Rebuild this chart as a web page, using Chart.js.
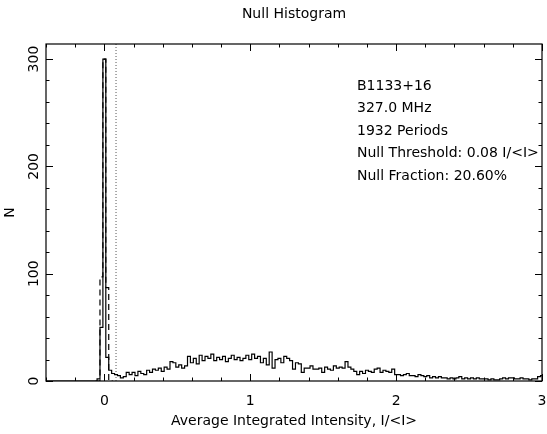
<!DOCTYPE html>
<html>
<head>
<meta charset="utf-8">
<script src="https://cdn.jsdelivr.net/npm/chart.js@4.4.1/dist/chart.umd.min.js"></script>
<style>
  html, body { margin: 0; padding: 0; background: #fff; }
</style>
</head>
<body>
<canvas id="grafikNull" width="547" height="434"></canvas>
<script>
// histogram bins: first centre and width (I/<I>)
const binStart = -0.4;
const binWidth = 0.02;

// on-pulse counts, one per bin from -0.4 to 3.0
const onCounts = [
  0, 0, 0, 0, 0, 0, 0, 0, 0, 0, 0, 0, 0, 0, 0, 0, 0, 0,
  2, 50, 300, 22, 10,
  7, 6, 5, 3, 4, 8, 6, 8, 5, 9, 7, 6, 10, 8, 11, 10, 12, 9, 13, 11,
  18, 17, 13, 15, 12, 14, 23, 17, 21, 16,
  24, 19, 23, 21, 25, 19, 22, 20, 23, 18,
  21, 24, 20, 22, 19, 21, 24, 20, 25, 21,
  23, 17, 21, 15, 27, 12, 20, 21, 17, 23,
  21, 19, 11, 17, 16, 8, 12, 12, 14, 11,
  11, 12, 8, 13, 11, 10, 14, 12, 13, 12,
  18, 13, 11, 9, 6, 9, 7, 10, 9, 8,
  11, 12, 8, 10, 9, 8, 11,
  6, 6, 5, 6, 7, 5, 5, 4, 6, 5,
  4, 5, 3, 4, 3, 4, 3, 3, 2, 3,
  2, 3, 4, 2, 3, 2, 3, 2, 3, 2,
  2, 2, 1, 2, 1, 1, 2, 3, 2, 3,
  3, 2, 2, 3, 2, 2, 1, 2, 2, 4,
  5
];

// off-pulse (noise) histogram, dashed
const offCentres = [-0.06, -0.04, -0.02, 0, 0.02, 0.04, 0.06];
const offCounts = [0, 0, 97, 300, 87, 0, 0];

const nullThreshold = 0.08;

// axes
const xMin = -0.4, xMax = 3;
const yMin = 0, yMax = 314;
const xMajor = [0, 1, 2, 3];
const xMinorStep = 0.2;
const yMajor = [0, 100, 200, 300];
const yMinorStep = 20;

const infoLines = [
  'B1133+16',
  '327.0 MHz',
  '1932 Periods',
  'Null Threshold: 0.08 I/<I>',
  'Null Fraction: 20.60%'
];

const fontName = '"DejaVu Sans", sans-serif';

const onData = onCounts.map((n, i) => ({ x: binStart + i * binWidth, y: n }));
const offData = offCounts.map((n, i) => ({ x: offCentres[i], y: n }));

// box, inward ticks and all text, PGPLOT style
const boxPlugin = {
  id: 'box',
  afterDraw(chart) {
    const { ctx, chartArea: a, scales: { x, y } } = chart;
    ctx.save();
    ctx.strokeStyle = '#000';
    ctx.fillStyle = '#000';
    ctx.lineWidth = 1.2;
    ctx.strokeRect(a.left, a.top, a.right - a.left, a.bottom - a.top);

    ctx.beginPath();
    for (let v = xMin; v <= xMax + 1e-6; v += xMinorStep) {
      const r = Math.round(v * 10) / 10;
      const len = xMajor.includes(r) ? 7 : 3.5;
      const px = Math.round(x.getPixelForValue(r)) + 0.5;
      ctx.moveTo(px, a.bottom); ctx.lineTo(px, a.bottom - len);
      ctx.moveTo(px, a.top); ctx.lineTo(px, a.top + len);
    }
    for (let v = yMin; v <= yMax; v += yMinorStep) {
      const len = yMajor.includes(v) ? 7 : 3.5;
      const py = Math.round(y.getPixelForValue(v)) + 0.5;
      ctx.moveTo(a.left, py); ctx.lineTo(a.left + len, py);
      ctx.moveTo(a.right, py); ctx.lineTo(a.right - len, py);
    }
    ctx.lineWidth = 1;
    ctx.stroke();

    ctx.font = '14px ' + fontName;
    ctx.textAlign = 'center';
    ctx.textBaseline = 'middle';
    xMajor.forEach(v => ctx.fillText(String(v), x.getPixelForValue(v), a.bottom + 20));
    yMajor.forEach(v => {
      ctx.save();
      ctx.translate(a.left - 12, y.getPixelForValue(v));
      ctx.rotate(-Math.PI / 2);
      ctx.fillText(String(v), 0, 0);
      ctx.restore();
    });

    // titles
    ctx.fillText('Null Histogram', (a.left + a.right) / 2, 14);
    ctx.fillText('Average Integrated Intensity, I/<I>', (a.left + a.right) / 2, a.bottom + 40);
    ctx.save();
    ctx.translate(10, (a.top + a.bottom) / 2);
    ctx.rotate(-Math.PI / 2);
    ctx.fillText('N', 0, 0);
    ctx.restore();

    ctx.textAlign = 'left';
    infoLines.forEach((t, i) => ctx.fillText(t, 357, 86 + i * 22.5));
    ctx.restore();
  }
};

const grafik = new Chart(document.getElementById('grafikNull'), {
  type: 'line',
  data: {
    datasets: [
      {
        data: onData,
        stepped: 'middle',
        borderColor: '#000',
        borderWidth: 1.2,
        pointRadius: 0,
        fill: false
      },
      {
        data: offData,
        stepped: 'middle',
        borderColor: '#000',
        borderWidth: 1.2,
        borderDash: [6, 4],
        pointRadius: 0,
        fill: false
      },
      {
        data: [{ x: nullThreshold, y: yMin }, { x: nullThreshold, y: yMax }],
        borderColor: '#555',
        borderWidth: 1,
        borderDash: [1, 2],
        pointRadius: 0,
        fill: false
      }
    ]
  },
  options: {
    responsive: false,
    animation: false,
    devicePixelRatio: 1,
    layout: { padding: { left: 46, right: 5, top: 44, bottom: 53 } },
    scales: {
      x: { type: 'linear', min: xMin, max: xMax, display: false },
      y: { type: 'linear', min: yMin, max: yMax, display: false }
    },
    plugins: {
      legend: { display: false },
      tooltip: { enabled: false }
    }
  },
  plugins: [boxPlugin]
});
</script>
</body>
</html>
